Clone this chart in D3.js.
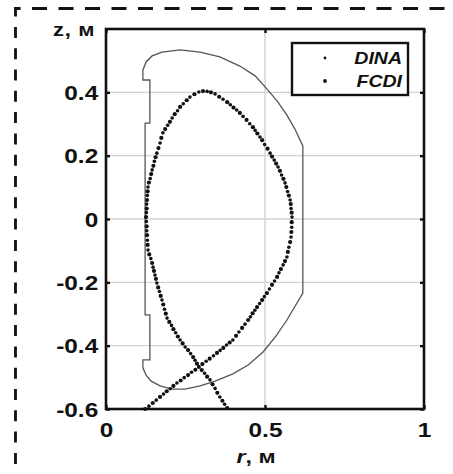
<!DOCTYPE html>
<html>
<head>
<meta charset="utf-8">
<script src="https://cdn.jsdelivr.net/npm/d3@7/dist/d3.min.js"></script>
<style>
  body { margin: 0; background: #fff; }
  svg { display: block; }
  text { font-family: "Liberation Sans", Arial, sans-serif; font-weight: bold; fill: #111; }
</style>
</head>
<body>
<div id="chart"></div>
<script>
// separatrix from the two codes, r and z in metres
var dinaPoints = [
  [0.135,-0.591],[0.158,-0.572],[0.181,-0.553],[0.202,-0.536],[0.223,-0.518],[0.246,-0.501],
  [0.269,-0.484],[0.292,-0.467],[0.315,-0.449],[0.338,-0.432],[0.359,-0.415],[0.379,-0.398],
  [0.399,-0.382],[0.418,-0.357],[0.437,-0.332],[0.454,-0.309],[0.468,-0.288],[0.483,-0.267],
  [0.498,-0.245],[0.514,-0.221],[0.530,-0.196],[0.544,-0.170],[0.557,-0.145],[0.569,-0.120],
  [0.575,-0.089],[0.582,-0.057],[0.584,-0.026],[0.585,0.006],[0.582,0.033],[0.579,0.060],
  [0.571,0.087],[0.563,0.114],[0.552,0.139],[0.541,0.164],[0.529,0.186],[0.516,0.208],
  [0.499,0.235],[0.484,0.259],[0.469,0.280],[0.452,0.301],[0.431,0.324],[0.411,0.344],
  [0.391,0.361],[0.368,0.378],[0.343,0.395],[0.318,0.403],[0.292,0.401],[0.264,0.385],
  [0.243,0.364],[0.225,0.342],[0.208,0.319],[0.194,0.296],[0.179,0.272],[0.170,0.240],
  [0.160,0.208],[0.152,0.182],[0.145,0.155],[0.139,0.128],[0.132,0.101],[0.130,0.074],
  [0.128,0.047],[0.127,0.020],[0.127,-0.008],[0.128,-0.037],[0.130,-0.067],[0.132,-0.098],
  [0.141,-0.125],[0.148,-0.152],[0.154,-0.177],[0.160,-0.202],[0.168,-0.229],[0.176,-0.256],
  [0.184,-0.285],[0.192,-0.313],[0.206,-0.336],[0.219,-0.359],[0.233,-0.382],[0.249,-0.404],
  [0.266,-0.425],[0.280,-0.446],[0.292,-0.467],[0.310,-0.487],[0.327,-0.508],[0.343,-0.535],
  [0.358,-0.562],[0.373,-0.585]
]
var fcdiPoints = [
  [0.123,-0.600],[0.147,-0.581],[0.170,-0.562],[0.191,-0.544],[0.212,-0.527],[0.235,-0.510],
  [0.258,-0.493],[0.281,-0.476],[0.303,-0.458],[0.326,-0.441],[0.349,-0.423],[0.369,-0.407],
  [0.389,-0.390],[0.409,-0.369],[0.428,-0.344],[0.447,-0.319],[0.461,-0.298],[0.475,-0.278],
  [0.491,-0.256],[0.506,-0.234],[0.522,-0.208],[0.538,-0.183],[0.550,-0.158],[0.563,-0.133],
  [0.572,-0.104],[0.579,-0.073],[0.583,-0.041],[0.584,-0.010],[0.584,0.020],[0.581,0.047],
  [0.575,0.074],[0.567,0.101],[0.558,0.127],[0.547,0.152],[0.535,0.175],[0.522,0.197],
  [0.508,0.222],[0.491,0.249],[0.476,0.270],[0.462,0.290],[0.442,0.313],[0.421,0.335],
  [0.401,0.352],[0.381,0.369],[0.356,0.386],[0.330,0.400],[0.305,0.404],[0.278,0.394],
  [0.254,0.375],[0.233,0.354],[0.216,0.331],[0.201,0.307],[0.186,0.284],[0.174,0.256],
  [0.165,0.224],[0.156,0.195],[0.149,0.168],[0.142,0.142],[0.135,0.115],[0.131,0.087],
  [0.129,0.060],[0.128,0.033],[0.126,0.006],[0.128,-0.023],[0.129,-0.051],[0.131,-0.082],
  [0.136,-0.112],[0.145,-0.139],[0.151,-0.164],[0.157,-0.189],[0.164,-0.216],[0.172,-0.243],
  [0.180,-0.270],[0.188,-0.299],[0.199,-0.325],[0.212,-0.348],[0.226,-0.371],[0.241,-0.393],
  [0.258,-0.414],[0.274,-0.436],[0.286,-0.457],[0.301,-0.477],[0.318,-0.498],[0.335,-0.522],
  [0.350,-0.549],[0.366,-0.574],[0.381,-0.597]
]
// first wall contour
var wallPoints = [
  [0.233,0.534],[0.296,0.527],[0.358,0.512],[0.421,0.483],[0.469,0.452],[0.503,0.414],
  [0.538,0.373],[0.569,0.328],[0.594,0.284],[0.619,0.231],[0.619,-0.234],
  [0.569,-0.319],[0.535,-0.369],[0.494,-0.420],[0.447,-0.461],[0.399,-0.489],[0.343,-0.512],
  [0.296,-0.527],[0.248,-0.537],[0.208,-0.537],[0.170,-0.527],[0.142,-0.512],[0.126,-0.493],
  [0.116,-0.470],[0.116,-0.445],[0.138,-0.445],[0.138,-0.303],[0.123,-0.303],[0.123,0.303],
  [0.138,0.303],[0.138,0.439],[0.116,0.439],[0.116,0.470],[0.126,0.496],[0.145,0.515],
  [0.176,0.527],[0.233,0.534]
]
var rTicks = [0, 0.5, 1]
var zTicks = [-0.6, -0.4, -0.2, 0, 0.2, 0.4]
var rGrid = [0.5]
var zGrid = [-0.4, -0.2, 0, 0.2, 0.4]
var legendNames = ['DINA', 'FCDI']

;(function() {
  var
    WIDTH = 453,
    HEIGHT = 474,
    LEFT = 106, RIGHT = 424, TOP = 29, BOTTOM = 409,
    SX = 1.22   // the scan is stretched sideways

  var svg = d3.select('#chart').append('svg')
    .attr('width', WIDTH)
    .attr('height', HEIGHT)

  var x = d3.scaleLinear().domain([0, 1]).range([LEFT, RIGHT])
  var y = d3.scaleLinear().domain([-0.6, 0.6]).range([BOTTOM, TOP])

  // dashed frame of the figure panel
  svg.append('line')
    .attr('x1', 15).attr('y1', 8.5).attr('x2', WIDTH).attr('y2', 8.5)
    .attr('stroke', '#111').attr('stroke-width', 2.8)
    .attr('stroke-dasharray', '15,11.5').attr('stroke-dashoffset', 9.5)
  svg.append('line')
    .attr('x1', 15.5).attr('y1', 7).attr('x2', 15.5).attr('y2', HEIGHT)
    .attr('stroke', '#111').attr('stroke-width', 2.8)
    .attr('stroke-dasharray', '11,10.3').attr('stroke-dashoffset', 1.4)

  // grid
  var grid = svg.append('g')
  grid.selectAll('.gr').data(rGrid).enter().append('line')
    .attr('x1', d => x(d)).attr('x2', d => x(d))
    .attr('y1', TOP).attr('y2', BOTTOM)
    .attr('stroke', '#d2d2d2').attr('stroke-width', 1.4)
  grid.selectAll('.gz').data(zGrid).enter().append('line')
    .attr('x1', LEFT).attr('x2', RIGHT)
    .attr('y1', d => y(d)).attr('y2', d => y(d))
    .attr('stroke', '#d2d2d2').attr('stroke-width', 1.4)

  // wall
  var line = d3.line().x(d => x(d[0])).y(d => y(d[1]))
  svg.append('path')
    .datum(wallPoints)
    .attr('d', line)
    .attr('fill', 'none')
    .attr('stroke', '#555')
    .attr('stroke-width', 1.3)

  // separatrix dots
  svg.append('g').selectAll('circle').data(dinaPoints).enter().append('circle')
    .attr('cx', d => x(d[0])).attr('cy', d => y(d[1]))
    .attr('r', 1.8).attr('fill', '#111')
  svg.append('g').selectAll('circle').data(fcdiPoints).enter().append('circle')
    .attr('cx', d => x(d[0])).attr('cy', d => y(d[1]))
    .attr('r', 2.1).attr('fill', '#111')

  // axes, ticks pointing inwards
  function styleAxis(g) {
    g.select('.domain').remove()
    g.selectAll('.tick line').attr('stroke', '#111').attr('stroke-width', 2.4)
    g.attr('font-size', 20).attr('font-family', null)
    g.selectAll('.tick text').attr('fill', '#111')
  }
  var fmt = d => String(d)

  var left = svg.append('g')
    .attr('transform', 'translate(' + LEFT + ',0)')
    .call(d3.axisLeft(y).tickValues(zTicks).tickSizeInner(-4).tickSizeOuter(0).tickPadding(6.4).tickFormat(fmt))
  styleAxis(left)
  left.selectAll('.tick text').attr('transform', 'scale(' + SX + ',1)').attr('dy', '0.36em')

  var bottom = svg.append('g')
    .attr('transform', 'translate(0,' + BOTTOM + ')')
    .call(d3.axisBottom(x).tickValues(rTicks).tickSizeInner(-4).tickSizeOuter(0).tickPadding(13.8).tickFormat(fmt))
  styleAxis(bottom)
  bottom.selectAll('.tick text').attr('transform', 'scale(' + SX + ',1)')

  var right = svg.append('g')
    .attr('transform', 'translate(' + RIGHT + ',0)')
    .call(d3.axisRight(y).tickValues(zTicks).tickSizeInner(-4).tickSizeOuter(0).tickFormat(''))
  styleAxis(right)
  var top = svg.append('g')
    .attr('transform', 'translate(0,' + TOP + ')')
    .call(d3.axisTop(x).tickValues(rTicks).tickSizeInner(-4).tickSizeOuter(0).tickFormat(''))
  styleAxis(top)

  svg.append('rect')
    .attr('x', LEFT).attr('y', TOP)
    .attr('width', RIGHT - LEFT).attr('height', BOTTOM - TOP)
    .attr('fill', 'none').attr('stroke', '#111').attr('stroke-width', 2.6)

  // axis titles
  svg.append('text')
    .attr('transform', 'translate(53,36) scale(' + SX + ',1)')
    .attr('font-size', 18)
    .attr('letter-spacing', 0.6)
    .text('z, м')
  var xt = svg.append('text')
    .attr('transform', 'translate(256,463) scale(' + SX + ',1)')
    .attr('font-size', 19)
    .attr('text-anchor', 'middle')
  xt.append('tspan').attr('font-style', 'italic').text('r')
  xt.append('tspan').text(', м')

  // legend
  var legend = svg.append('g')
  legend.append('rect')
    .attr('x', 292).attr('y', 43).attr('width', 116).attr('height', 52)
    .attr('fill', '#fff').attr('stroke', '#111').attr('stroke-width', 2.4)
  var item = legend.selectAll('.item').data(legendNames).enter().append('g')
    .attr('transform', (d, i) => 'translate(0,' + (58 + i * 23) + ')')
  item.append('circle')
    .attr('cx', 325).attr('cy', 0)
    .attr('r', (d, i) => i ? 1.9 : 1.4)
    .attr('fill', '#111')
  item.append('text')
    .attr('transform', 'translate(402,6) scale(' + SX + ',1)')
    .attr('text-anchor', 'end')
    .attr('font-size', 16)
    .attr('font-style', 'italic')
    .text(d => d)
})()
</script>
</body>
</html>
